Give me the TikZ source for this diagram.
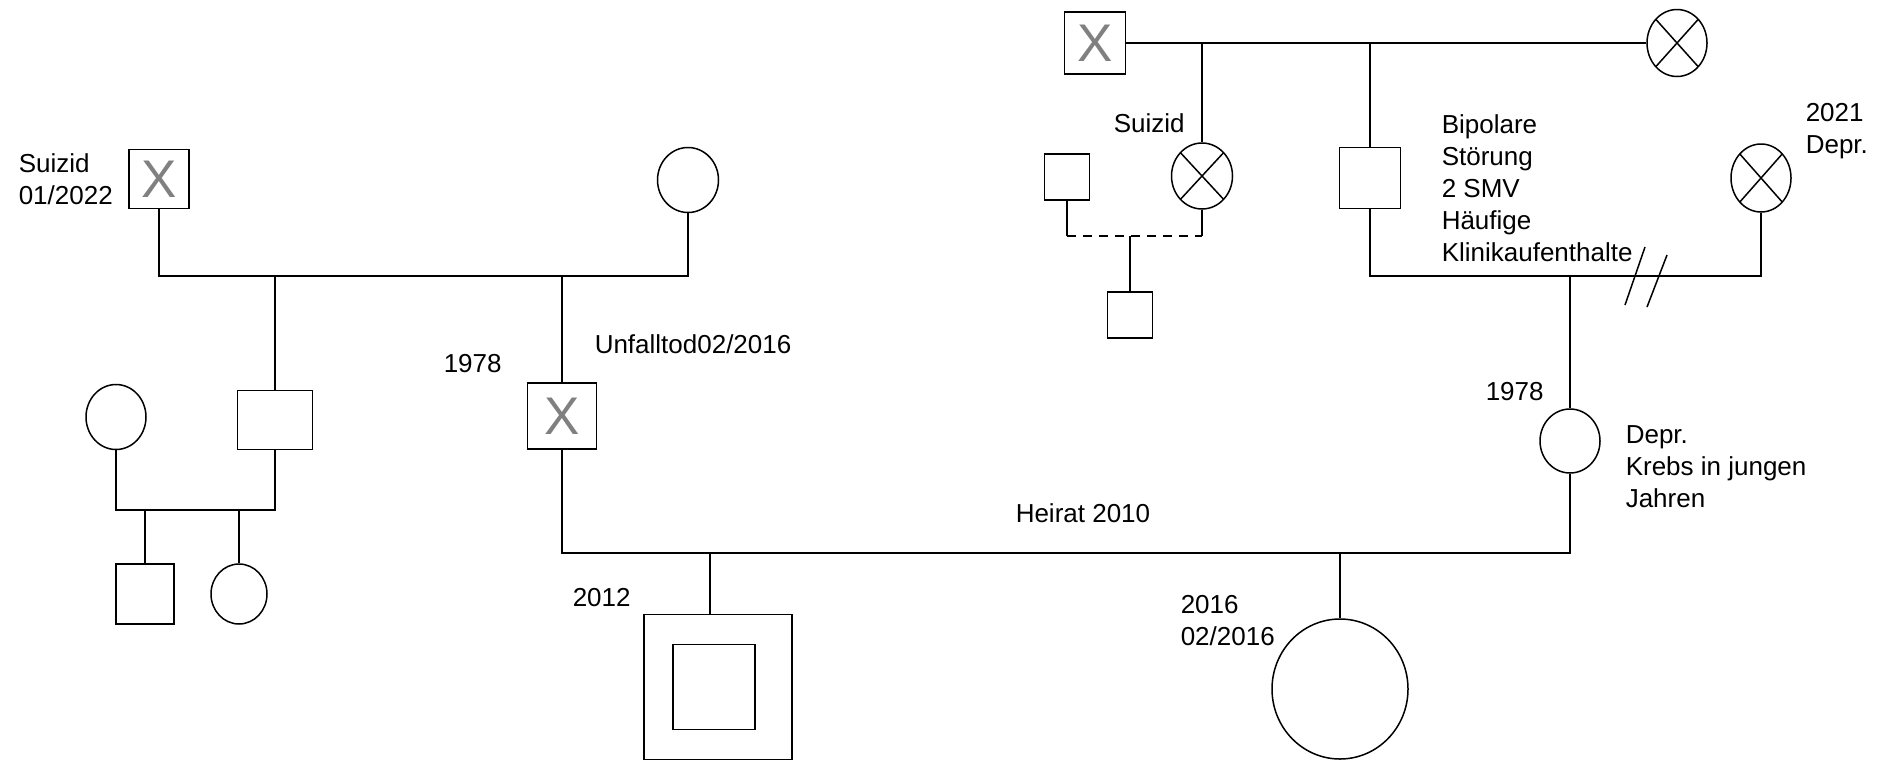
\documentclass[tikz,border=0pt]{standalone}
\usepackage{fontspec}
\setmainfont{Liberation Sans}
\usetikzlibrary{shapes.geometric}
\tikzset{
  male/.style={draw, rectangle, inner sep=0pt, minimum width=60pt, minimum height=60pt},
  female/.style={draw, ellipse, inner sep=0pt, minimum width=60pt, minimum height=65pt},
  dead/.style={font=\fontsize{53}{53}\selectfont, text=gray},
  crossed/.style={female, path picture={
      \draw (path picture bounding box.north west) -- (path picture bounding box.south east)
            (path picture bounding box.north east) -- (path picture bounding box.south west);}},
  lbl/.style={anchor=west, align=left, inner sep=0pt, font=\fontsize{26}{32}\selectfont},
}

\begin{document}
\begin{tikzpicture}[x=1pt, y=-1pt, line width=1.5pt]
    \useasboundingbox (0,0) rectangle (1884,761);
    % father's side
    \node[male, dead, minimum height=59pt] (gpa) at (159,179) {X};
    \node[female, minimum width=61pt] (gma) at (688,180) {};
    \node[male, minimum width=75pt, minimum height=59pt] (uncle) at (275,420) {};
    \node[female] (aunt) at (116,417) {};
    \node[male, minimum width=58pt] (cousa) at (145,594) {};
    \node[female, minimum width=56pt, minimum height=60pt] (cousb) at (239,594) {};
    \node[male, dead, minimum width=69pt, minimum height=66pt] (dad) at (562,416) {X};
    % mother's side
    \node[male, dead, minimum width=61pt, minimum height=62pt] (ggpa) at (1095,43) {X};
    \node[crossed, minimum height=67pt] (ggma) at (1677,43) {};
    \node[crossed, minimum width=61pt, minimum height=66pt] (tante) at (1202,176) {};
    \node[male, minimum width=45pt, minimum height=46pt] (partner) at (1067,177) {};
    \node[male, minimum width=45pt, minimum height=46pt] (kid) at (1130,315) {};
    \node[male, minimum width=61pt, minimum height=61pt] (opa) at (1370,178) {};
    \node[crossed, minimum height=68pt] (oma) at (1761,178) {};
    \node[female, minimum height=64pt] (mum) at (1570,441) {};
    % children
    \node[male, minimum width=148pt, minimum height=145pt] (son) at (718,687) {};
    \node[male, minimum width=82pt, minimum height=85pt] (soninner) at (714,687) {};
    \node[female, minimum width=136pt, minimum height=140pt] (girl) at (1340,689) {};

    \coordinate (ml) at (159,276);
    \coordinate (mr) at (688,276);
    \coordinate (cu) at (275,276);
    \coordinate (cd) at (562,276);
    \coordinate (al) at (116,510);
    \coordinate (ar) at (275,510);
    \coordinate (ca) at (145,510);
    \coordinate (cb) at (239,510);
    \coordinate (pl) at (562,553);
    \coordinate (pr) at (1570,553);
    \coordinate (cs) at (710,553);
    \coordinate (cg) at (1340,553);
    \coordinate (ct) at (1202,43);
    \coordinate (co) at (1370,43);
    \coordinate (dl) at (1067,236);
    \coordinate (dr) at (1202,236);
    \coordinate (dk) at (1130,236);
    \coordinate (ol) at (1370,276);
    \coordinate (or) at (1761,276);
    \coordinate (cm) at (1570,276);

    \draw (gpa) -- (ml) -- (mr) -- (gma);
    \draw (cu) -- (uncle);
    \draw (cd) -- (dad);
    \draw (aunt) -- (al) -- (ar) -- (uncle);
    \draw (ca) -- (cousa);
    \draw (cb) -- (cousb);
    \draw (dad) -- (pl) -- (pr) -- (mum);
    \draw (cs) -- (cs |- son.north);
    \draw (cg) -- (girl);
    \draw (ggpa) -- (ggma);
    \draw (ct) -- (tante);
    \draw (co) -- (opa);
    \draw (partner) -- (dl);
    \draw[dash pattern=on 9pt off 7pt] (dl) -- (dr);
    \draw (dr) -- (tante);
    \draw (dk) -- (kid);
    \draw (opa) -- (ol) -- (or) -- (oma);
    \draw (cm) -- (mum);
    \draw (1625,305) -- (1645,247) (1647,307) -- (1667,255);

    \node[lbl] (t1) at (18,179) {Suizid\\01/2022};
    \node[lbl] (t2) at (594,344) {Unfalltod02/2016};
    \node[lbl] (t3) at (443,364) {1978};
    \node[lbl] (t4) at (1485,392) {1978};
    \node[lbl] (t5) at (1625,467) {Depr.\\Krebs in jungen\\Jahren};
    \node[lbl] (t6) at (1015,513) {Heirat 2010};
    \node[lbl] (t7) at (572,598) {2012};
    \node[lbl] (t8) at (1180,621) {2016\\02/2016};
    \node[lbl] (t9) at (1113,123) {Suizid};
    \node[lbl] (t10) at (1441,188) {Bipolare\\Störung\\2 SMV\\Häufige\\Klinikaufenthalte};
    \node[lbl] (t11) at (1805,131) {2021\\Depr.};
\end{tikzpicture}
\end{document}
